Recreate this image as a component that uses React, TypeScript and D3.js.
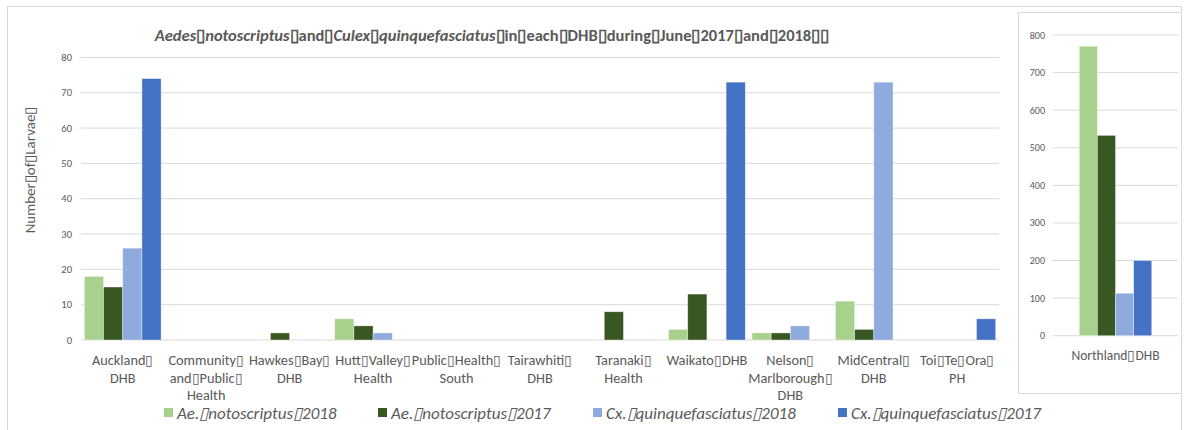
import React from "react";
import * as d3 from "d3";

const T = "\u25AF";

const categories = [
  "Auckland DHB",
  "Community and Public Health",
  "Hawkes Bay DHB",
  "Hutt Valley Health",
  "Public Health South",
  "Tairawhiti DHB",
  "Taranaki Health",
  "Waikato DHB",
  "Nelson Marlborough DHB",
  "MidCentral DHB",
  "Toi Te Ora PH",
];
const categoryLines = [
  [`Auckland${T}`, "DHB"],
  [`Community${T}`, `and${T}Public${T}`, "Health"],
  [`Hawkes${T}Bay${T}`, "DHB"],
  [`Hutt${T}Valley${T}`, "Health"],
  [`Public${T}Health${T}`, "South"],
  [`Tairawhiti${T}`, "DHB"],
  [`Taranaki${T}`, "Health"],
  [`Waikato${T}DHB`],
  [`Nelson${T}`, `Marlborough${T}`, "DHB"],
  [`MidCentral${T}`, "DHB"],
  [`Toi${T}Te${T}Ora${T}`, "PH"],
];
const series = [
  `Ae.${T}notoscriptus${T}2018`,
  `Ae.${T}notoscriptus${T}2017`,
  `Cx.${T}quinquefasciatus${T}2018`,
  `Cx.${T}quinquefasciatus${T}2017`,
];
const colors = ["#A9D18E", "#385723", "#8FAADC", "#4472C4"];
const aeNoto2018 = [18, 0, 0, 6, 0, 0, 0, 3, 2, 11, 0];
const aeNoto2017 = [15, 0, 2, 4, 0, 0, 8, 13, 2, 3, 0];
const cxQuin2018 = [26, 0, 0, 2, 0, 0, 0, 0, 4, 73, 0];
const cxQuin2017 = [74, 0, 0, 0, 0, 0, 0, 73, 0, 0, 6];
const mainValues = [aeNoto2018, aeNoto2017, cxQuin2018, cxQuin2017];
const mainTicks = [0, 10, 20, 30, 40, 50, 60, 70, 80];

const sideCategory = `Northland${T}DHB`;
const sideValues = [770, 533, 113, 200];
const sideTicks = [0, 100, 200, 300, 400, 500, 600, 700, 800];

const FONT = "Carlito, Calibri, Lato, 'Open Sans', sans-serif";
const TXT = "#595959";
const GRID = "#d9d9d9";

export default function App() {
  const y = d3.scaleLinear().domain([0, 80]).range([340, 57.4]);
  const x0 = d3.scaleBand<string>().domain(categories).range([81, 999]);
  const bw = x0.bandwidth();
  const xi = d3.scaleBand<string>().domain(series).range([bw * 0.04, bw * 0.96]);

  const ys = d3.scaleLinear().domain([0, 800]).range([335.7, 35]);
  const xs = d3.scaleBand<string>().domain([sideCategory]).range([1053, 1178]);
  const sbw = xs.bandwidth();
  const xsi = d3.scaleBand<string>().domain(series).range([sbw * 0.21, sbw * 0.79]);

  const legendX = [164, 378, 593, 838];

  return (
    <svg width={1189} height={430} style={{ position: "absolute", left: 0, top: 0 }} fontFamily={FONT}>
      <rect x={0} y={0} width={1189} height={430} fill="#fff" />
      <rect x={7.5} y={6.5} width={1174} height={440} fill="none" stroke={GRID} strokeWidth={1} />
      <rect x={1018.5} y={12.5} width={163} height={381} fill="#fff" stroke={GRID} strokeWidth={1} />

      {/* Title */}
      <text x={492} y={41} textAnchor="middle" fontSize={16.5} fontWeight="bold" fill={TXT}>
        <tspan fontStyle="italic">Aedes</tspan>
        <tspan>{T}</tspan>
        <tspan fontStyle="italic">notoscriptus</tspan>
        <tspan>{`${T}and${T}`}</tspan>
        <tspan fontStyle="italic">Culex</tspan>
        <tspan>{T}</tspan>
        <tspan fontStyle="italic">quinquefasciatus</tspan>
        <tspan>{`${T}in${T}each${T}DHB${T}during${T}June${T}2017${T}and${T}2018${T}${T}`}</tspan>
      </text>

      {/* Main gridlines */}
      {mainTicks.map((t) => (
        <g key={t}>
          <line x1={81} x2={999} y1={y(t)} y2={y(t)} stroke={GRID} strokeWidth={1} />
          <text x={72} y={y(t) + 3.5} textAnchor="end" fontSize={10.5} fill={TXT}>
            {t}
          </text>
        </g>
      ))}

      {/* Y axis title */}
      <text
        transform={`translate(35,170) rotate(-90)`}
        textAnchor="middle"
        fontSize={15}
        fill={TXT}
      >
        {`Number${T}of${T}Larvae${T}`}
      </text>

      {/* Main bars */}
      {categories.map((c, ci) => (
        <g key={c} transform={`translate(${x0(c)},0)`}>
          {series.map((s, si) => {
            const v = mainValues[si][ci];
            if (!v) return null;
            return (
              <rect
                key={s}
                x={xi(s)}
                y={y(v)}
                width={xi.bandwidth()}
                height={y(0) - y(v)}
                fill={colors[si]}
                stroke="#ffffff"
                strokeOpacity={0.5}
                strokeWidth={0.75}
              />
            );
          })}
          {categoryLines[ci].map((ln, li) => (
            <text key={li} x={bw / 2} y={365 + li * 17.5} textAnchor="middle" fontSize={14.3} fill={TXT}>
              {ln}
            </text>
          ))}
        </g>
      ))}

      {/* Side panel */}
      {sideTicks.map((t) => (
        <g key={t}>
          <line x1={1053} x2={1178} y1={ys(t)} y2={ys(t)} stroke={GRID} strokeWidth={1} />
          <text x={1045} y={ys(t) + 3.5} textAnchor="end" fontSize={10} fill={TXT}>
            {t}
          </text>
        </g>
      ))}
      <g transform={`translate(${xs(sideCategory)},0)`}>
        {series.map((s, si) => (
          <rect
            key={s}
            x={xsi(s)}
            y={ys(sideValues[si])}
            width={xsi.bandwidth()}
            height={ys(0) - ys(sideValues[si])}
            fill={colors[si]}
            stroke="#ffffff"
            strokeOpacity={0.5}
            strokeWidth={0.75}
          />
        ))}
        <text x={sbw / 2} y={360} textAnchor="middle" fontSize={13.5} fill={TXT}>
          {sideCategory}
        </text>
      </g>

      {/* Legend */}
      {series.map((s, si) => (
        <g key={s} transform={`translate(${legendX[si]},0)`}>
          <rect x={0} y={408} width={9} height={9} fill={colors[si]} />
          <text x={13} y={419} fontSize={17} fontStyle="italic" fill={TXT}>
            {s}
          </text>
        </g>
      ))}
    </svg>
  );
}
